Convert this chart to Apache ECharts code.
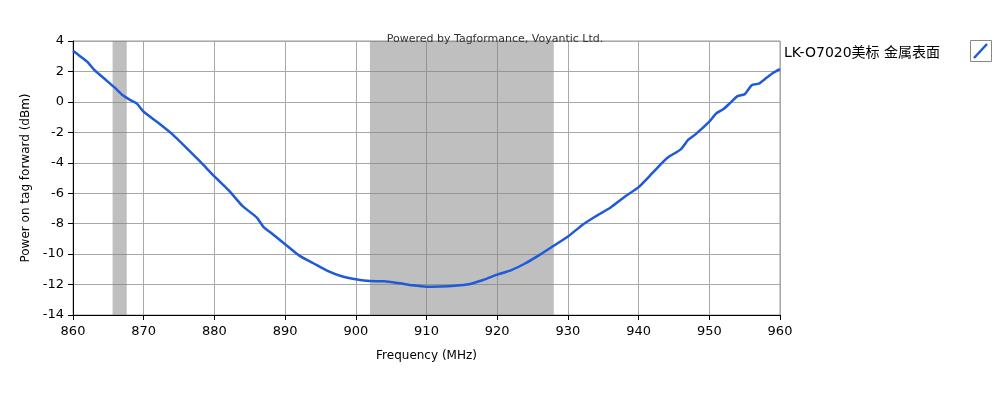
<!DOCTYPE html>
<html><head><meta charset="utf-8">
<script src="https://cdn.jsdelivr.net/npm/echarts@6/dist/echarts.min.js"></script>
<style>html,body{margin:0;padding:0;background:#fff}#c{width:1000px;height:400px}</style>
</head><body><div id="c"></div>
<script>
const seriesName = 'LK-O7020美标 金属表面';
const freq = [860,861,862,863,864,865,866,867,868,869,870,872,874,876,878,880,882,884,886,887,888,890,892,894,896,898,900,902,904,906,908,910,912,914,916,918,920,922,924,926,928,930,932,934,936,938,940,942,944,946,947,948,950,951,952,953,954,955,956,957,958,959,960];
const power = [3.36,3.0,2.64,2.1,1.7,1.3,0.9,0.45,0.15,-0.1,-0.65,-1.35,-2.1,-3.0,-3.93,-4.9,-5.8,-6.85,-7.6,-8.25,-8.6,-9.35,-10.1,-10.6,-11.1,-11.45,-11.65,-11.77,-11.78,-11.9,-12.05,-12.14,-12.13,-12.08,-11.98,-11.7,-11.35,-11.05,-10.6,-10.05,-9.45,-8.85,-8.1,-7.5,-6.95,-6.25,-5.6,-4.65,-3.7,-3.1,-2.5,-2.15,-1.3,-0.75,-0.47,-0.05,0.38,0.5,1.1,1.2,1.55,1.9,2.15];
const bands = [[865.6, 867.6], [902, 928]];
const xTicks = [860,870,880,890,900,910,920,930,940,950,960];
const yTicks = [-14,-12,-10,-8,-6,-4,-2,0,2,4];

const font = 'DejaVu Sans, Noto Sans CJK SC';
const lineColor = '#1f5ad8';
const chart = echarts.init(document.getElementById('c'), null, {renderer:'canvas'});
chart.setOption({
  animation:false,
  title:{text:'Powered by Tagformance, Voyantic Ltd.', left:490, top:29, textAlign:'center',
    textStyle:{fontSize:11, fontWeight:'normal', color:'#333', fontFamily:font}},
  grid:{left:73, right:220, top:41, bottom:85, show:true, borderColor:'#999', borderWidth:1, backgroundColor:'#fff'},
  legend:{left:774, top:41, align:'left', itemWidth:0, itemHeight:0, itemGap:0,
    icon:'rect', itemStyle:{color:'rgba(0,0,0,0)', borderWidth:0},
    data:[seriesName],
    textStyle:{fontSize:14, color:'#000', fontFamily:font}},
  graphic:[
    {type:'rect', left:970, top:40, shape:{width:21, height:21}, style:{fill:'#fff', stroke:'#888', lineWidth:1}, z:1},
    {type:'line', shape:{x1:974, y1:58, x2:987, y2:44}, style:{stroke:lineColor, lineWidth:2.5}, z:2}
  ],
  xAxis:{type:'value', min:xTicks[0], max:xTicks[xTicks.length-1], interval:10,
    name:'Frequency (MHz)', nameLocation:'middle', nameGap:35,
    nameTextStyle:{fontSize:12, color:'#000', fontFamily:font},
    axisLine:{show:true, onZero:false, lineStyle:{color:'#000', width:1}},
    axisTick:{show:true, length:5, lineStyle:{color:'#000'}},
    axisLabel:{fontSize:13, color:'#000', fontFamily:font, margin:10},
    splitLine:{show:true, lineStyle:{color:'#a8a8a8', width:1}}},
  yAxis:{type:'value', min:yTicks[0], max:yTicks[yTicks.length-1], interval:2,
    name:'Power on tag forward (dBm)', nameLocation:'middle', nameGap:36, nameRotate:90,
    nameTextStyle:{fontSize:12, color:'#000', fontFamily:font},
    axisLine:{show:true, onZero:false, lineStyle:{color:'#000', width:1}},
    axisTick:{show:true, length:5, lineStyle:{color:'#000'}},
    axisLabel:{fontSize:13, color:'#000', fontFamily:font, margin:9},
    splitLine:{show:true, lineStyle:{color:'#a8a8a8', width:1}}},
  series:[{
    name:seriesName, type:'line', data:freq.map((f,i)=>[f, power[i]]),
    showSymbol:false, symbol:'none', smooth:0.2,
    lineStyle:{color:lineColor, width:2.5}, itemStyle:{color:lineColor},
    markArea:{silent:true, itemStyle:{color:'rgba(128,128,128,0.5)'},
      data:bands.map(b=>[{xAxis:b[0]},{xAxis:b[1]}])}
  }]
});
</script></body></html>
